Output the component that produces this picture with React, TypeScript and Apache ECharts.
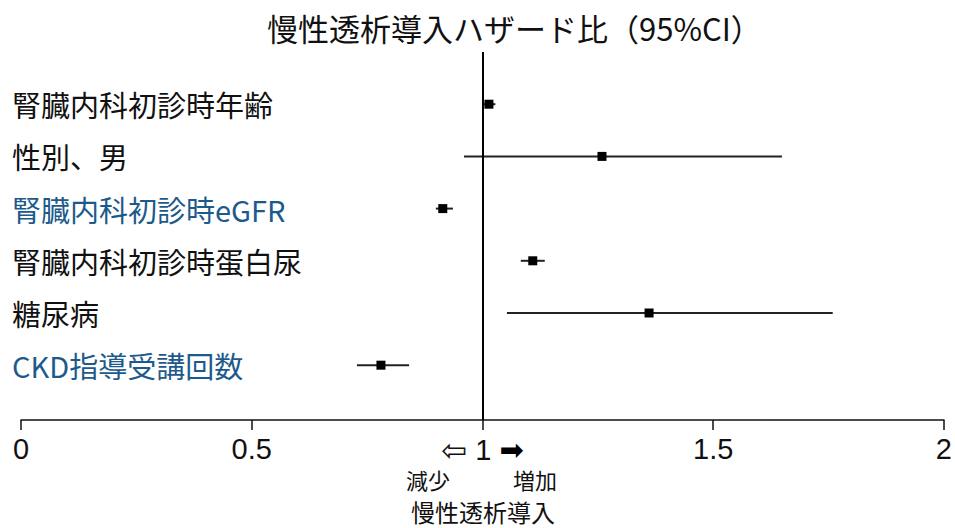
import React, { useEffect, useRef } from "react";
import * as echarts from "echarts";

const labels = [
  "腎臓内科初診時年齢",
  "性別、男",
  "腎臓内科初診時eGFR",
  "腎臓内科初診時蛋白尿",
  "糖尿病",
  "CKD指導受講回数",
];
const estimates = [1.014, 1.259, 0.914, 1.109, 1.361, 0.78];
const lower = [1.003, 0.96, 0.899, 1.083, 1.053, 0.728];
const upper = [1.028, 1.649, 0.936, 1.135, 1.759, 0.841];
const labelColors = ["#111111", "#111111", "#1d5a8c", "#111111", "#111111", "#1d5a8c"];
const xTickLabels = ["0", "0.5", "1", "1.5", "2"];
const titleText = "慢性透析導入ハザード比（95%CI）";
const decreaseText = "減少";
const increaseText = "増加";
const outcomeText = "慢性透析導入";

const CJK = '"Noto Sans CJK JP", sans-serif';
const NUM = '"Liberation Sans", Arial, sans-serif';

export default function App() {
  const ref = useRef<HTMLDivElement>(null);
  useEffect(() => {
    document.body.style.margin = "0";
    if (!ref.current) return;
    const chart = echarts.init(ref.current, null, { renderer: "svg" });
    const data = labels.map((_, i) => [lower[i], upper[i], estimates[i], i + 1]);
    const textStyleBase = { fontFamily: CJK, fill: "#111", align: "center", verticalAlign: "middle" };
    chart.setOption({
      animation: false,
      backgroundColor: "#ffffff",
      title: {
        text: titleText,
        left: 262,
        top: 7,
        textStyle: { fontFamily: CJK, fontSize: 31, fontWeight: "normal", color: "#111" },
      },
      grid: { left: 21, right: 11, top: 52, bottom: 108 },
      xAxis: {
        type: "value",
        position: "bottom",
        min: 0,
        max: 2,
        interval: 0.5,
        splitLine: { show: false },
        axisLine: { onZero: false, lineStyle: { color: "#111", width: 1.5 } },
        axisTick: { length: 10, lineStyle: { color: "#111", width: 1.5 } },
        axisLabel: {
          margin: 14,
          showMinLabel: true,
          showMaxLabel: true,
          formatter: (v: number) => {
            const idx = Math.round(v / 0.5);
            const t = xTickLabels[idx] ?? "";
            if (t === "1") return "{l|⇦} 1 {r|➡}";
            return t;
          },
          fontFamily: NUM,
          fontSize: 29,
          color: "#111",
          rich: {
            l: { fontFamily: '"DejaVu Sans", sans-serif', fontSize: 31, color: "#111" },
            r: { fontFamily: '"DejaVu Sans", sans-serif', fontSize: 29, color: "#000" },
          },
        },
      },
      yAxis: {
        type: "value",
        inverse: true,
        min: 0,
        max: 7.05,
        interval: 1,
        splitLine: { show: false },
        axisLine: { show: false },
        axisTick: { show: false },
        axisLabel: {
          align: "left",
          margin: 9,
          fontFamily: CJK,
          fontSize: 29,
          formatter: (v: number) => {
            const i = Math.round(v) - 1;
            return Math.abs(v - Math.round(v)) < 1e-6 && labels[i] ? labels[i] : "";
          },
          color: (v: any) => {
            const i = Math.round(Number(v)) - 1;
            return labelColors[i] ?? "#111";
          },
        },
      },
      series: [
        {
          type: "custom",
          data,
          encode: { x: [0, 1, 2], y: 3 },
          renderItem: (params: any, api: any) => {
            const y = api.value(3);
            const lo = api.coord([api.value(0), y]);
            const hi = api.coord([api.value(1), y]);
            const pt = api.coord([api.value(2), y]);
            return {
              type: "group",
              children: [
                {
                  type: "line",
                  shape: { x1: lo[0], y1: lo[1], x2: hi[0], y2: hi[1] },
                  style: { stroke: "#222", lineWidth: 2 },
                },
                {
                  type: "rect",
                  shape: { x: pt[0] - 4.5, y: pt[1] - 4.5, width: 9, height: 9 },
                  style: { fill: "#000" },
                },
              ],
            };
          },
          markLine: {
            silent: true,
            symbol: "none",
            label: { show: false },
            lineStyle: { color: "#000", width: 2, type: "solid" },
            data: [{ xAxis: 1 }],
          },
        },
      ],
      graphic: [
        {
          type: "text",
          x: 428,
          y: 479,
          style: { ...textStyleBase, text: decreaseText, fontSize: 22 },
        },
        {
          type: "text",
          x: 535,
          y: 479,
          style: { ...textStyleBase, text: increaseText, fontSize: 22 },
        },
        {
          type: "text",
          x: 483,
          y: 511,
          style: { ...textStyleBase, text: outcomeText, fontSize: 24 },
        },
      ],
    });
    return () => chart.dispose();
  }, []);
  return <div ref={ref} style={{ width: 955, height: 528 }} />;
}
